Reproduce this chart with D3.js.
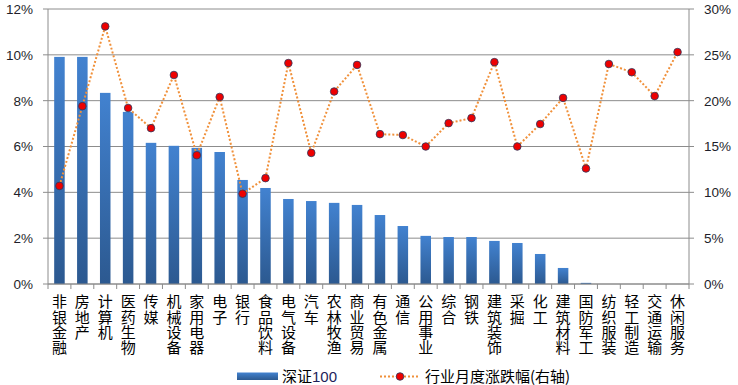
<!DOCTYPE html>
<html>
<head>
<meta charset="utf-8">
<script src="https://cdn.jsdelivr.net/npm/d3@7"></script>
<style>
  body { margin: 0; background: #fff; }
  text { font-family: "Liberation Sans", Arial, "Noto Sans CJK SC", sans-serif; }
  .cjk { font-family: "Noto Sans CJK SC", sans-serif; }
  .vlabel { writing-mode: vertical-rl; text-orientation: upright; }
</style>
</head>
<body>
<div id="chart"></div>
<script>
// categories (industries)
var categories = ["非银金融", "房地产", "计算机", "医药生物", "传媒", "机械设备", "家用电器", "电子", "银行", "食品饮料",
  "电气设备", "汽车", "农林牧渔", "商业贸易", "有色金属", "通信", "公用事业", "综合", "钢铁", "建筑装饰",
  "采掘", "化工", "建筑材料", "国防军工", "纺织服装", "轻工制造", "交通运输", "休闲服务"];

// 深证100 share (left axis, %)
var barValues = [9.91, 9.91, 8.34, 7.51, 6.16, 6.03, 5.94, 5.76, 4.54, 4.19,
  3.71, 3.62, 3.54, 3.45, 3.01, 2.53, 2.10, 2.05, 2.05, 1.88,
  1.79, 1.31, 0.70, 0.05, 0, 0, 0, 0];

// 行业月度涨跌幅 (right axis, %)
var lineValues = [10.7, 19.4, 28.1, 19.2, 17.0, 22.8, 14.05, 20.4, 9.85, 11.55,
  24.1, 14.3, 21.0, 23.9, 16.35, 16.25, 15.0, 17.55, 18.1, 24.2,
  15.0, 17.45, 20.3, 12.6, 24.0, 23.1, 20.5, 25.3];

var leftTicks = [0, 2, 4, 6, 8, 10, 12];
var rightTicks = [0, 5, 10, 15, 20, 25, 30];

var svgWidth = 738;
var svgHeight = 385;
var margin = { top: 9, right: 49, bottom: 101, left: 48 };
var width = svgWidth - margin.left - margin.right;
var height = svgHeight - margin.top - margin.bottom;

var svg = d3.select("#chart")
  .append("svg")
  .attr("width", svgWidth)
  .attr("height", svgHeight);

var grad = svg.append("defs").append("linearGradient")
  .attr("id", "barGrad")
  .attr("x1", 0).attr("y1", 0).attr("x2", 0).attr("y2", 1);
grad.append("stop").attr("offset", "0%").attr("stop-color", "#4282d0");
grad.append("stop").attr("offset", "100%").attr("stop-color", "#2c5990");

var chartGroup = svg.append("g")
  .attr("transform", `translate(${margin.left}, ${margin.top})`);

// scales
var xScale = d3.scaleBand()
  .domain(categories)
  .range([0, width])
  .paddingInner(0.54)
  .paddingOuter(0.27);

var yLeft = d3.scaleLinear().domain([0, 12]).range([height, 0]);
var yRight = d3.scaleLinear().domain([0, 30]).range([height, 0]);

// gridlines
chartGroup.append("g")
  .selectAll("line")
  .data(leftTicks)
  .enter()
  .append("line")
  .attr("x1", -5)
  .attr("x2", width)
  .attr("y1", d => yLeft(d))
  .attr("y2", d => yLeft(d))
  .attr("stroke", "#8c8c8c");

// right axis ticks
chartGroup.append("g")
  .selectAll("line")
  .data(rightTicks)
  .enter()
  .append("line")
  .attr("x1", width)
  .attr("x2", width + 5)
  .attr("y1", d => yRight(d))
  .attr("y2", d => yRight(d))
  .attr("stroke", "#8c8c8c");

// axis lines
chartGroup.append("line")
  .attr("x1", 0).attr("x2", 0).attr("y1", 0).attr("y2", height)
  .attr("stroke", "#8c8c8c");
chartGroup.append("line")
  .attr("x1", width).attr("x2", width).attr("y1", 0).attr("y2", height)
  .attr("stroke", "#8c8c8c");

// bars
chartGroup.selectAll(".bar")
  .data(barValues)
  .enter()
  .append("rect")
  .attr("class", "bar")
  .attr("x", (d, i) => xScale(categories[i]))
  .attr("y", d => yLeft(d))
  .attr("width", xScale.bandwidth())
  .attr("height", d => height - yLeft(d))
  .attr("fill", "url(#barGrad)")
  .attr("display", d => d > 0 ? null : "none");

// x axis baseline and category boundary ticks
chartGroup.append("line")
  .attr("x1", 0).attr("x2", width).attr("y1", height).attr("y2", height)
  .attr("stroke", "#8c8c8c");
var stepW = xScale.step();
chartGroup.append("g")
  .selectAll("line")
  .data(d3.range(categories.length + 1))
  .enter()
  .append("line")
  .attr("x1", d => d * stepW)
  .attr("x2", d => d * stepW)
  .attr("y1", height)
  .attr("y2", height + 5)
  .attr("stroke", "#8c8c8c");

// line series
var cx = (d, i) => xScale(categories[i]) + xScale.bandwidth() / 2;
var line = d3.line()
  .x(cx)
  .y(d => yRight(d));

chartGroup.append("path")
  .datum(lineValues)
  .attr("d", line)
  .attr("fill", "none")
  .attr("stroke", "#f0903a")
  .attr("stroke-width", 2)
  .attr("stroke-dasharray", "2,2");

chartGroup.selectAll(".dot")
  .data(lineValues)
  .enter()
  .append("circle")
  .attr("class", "dot")
  .attr("cx", cx)
  .attr("cy", d => yRight(d))
  .attr("r", 3.8)
  .attr("fill", "#ee0000")
  .attr("stroke", "#2b3a60")
  .attr("stroke-width", 0.8);

// left tick labels
chartGroup.append("g")
  .selectAll("text")
  .data(leftTicks)
  .enter()
  .append("text")
  .attr("x", -15)
  .attr("y", d => yLeft(d))
  .attr("dy", "0.36em")
  .attr("text-anchor", "end")
  .attr("font-size", "13.5px")
  .attr("fill", "#1e1e2a")
  .text(d => d + "%");

// right tick labels
chartGroup.append("g")
  .selectAll("text")
  .data(rightTicks)
  .enter()
  .append("text")
  .attr("x", width + 15)
  .attr("y", d => yRight(d))
  .attr("dy", "0.36em")
  .attr("text-anchor", "start")
  .attr("font-size", "13.5px")
  .attr("fill", "#1e1e2a")
  .text(d => d + "%");

// vertical category labels
chartGroup.append("g")
  .selectAll("text")
  .data(categories)
  .enter()
  .append("text")
  .attr("class", "cjk vlabel")
  .attr("x", d => xScale(d) + xScale.bandwidth() / 2)
  .attr("y", height + 10)
  .attr("font-size", "15px")
  .attr("letter-spacing", "0.4px")
  .attr("fill", "#000")
  .text(d => d);

// legend
var legend = svg.append("g");
legend.append("rect")
  .attr("x", 237).attr("y", 372.5)
  .attr("width", 41).attr("height", 7.5)
  .attr("fill", "url(#barGrad)");
legend.append("text")
  .attr("x", 282).attr("y", 382)
  .attr("font-size", "15px")
  .attr("fill", "#000")
  .html('<tspan class="cjk">深证</tspan><tspan fill="#1e1e5a">100</tspan>');

legend.append("line")
  .attr("x1", 380).attr("x2", 418).attr("y1", 376.5).attr("y2", 376.5)
  .attr("stroke", "#f0903a").attr("stroke-width", 2).attr("stroke-dasharray", "2,2");
legend.append("circle")
  .attr("cx", 400).attr("cy", 376.5).attr("r", 3.8)
  .attr("fill", "#ee0000").attr("stroke", "#2b3a60").attr("stroke-width", 0.8);
legend.append("text")
  .attr("x", 425).attr("y", 382)
  .attr("font-size", "15px")
  .attr("class", "cjk")
  .attr("fill", "#000")
  .text("行业月度涨跌幅(右轴)");
</script>
</body>
</html>
